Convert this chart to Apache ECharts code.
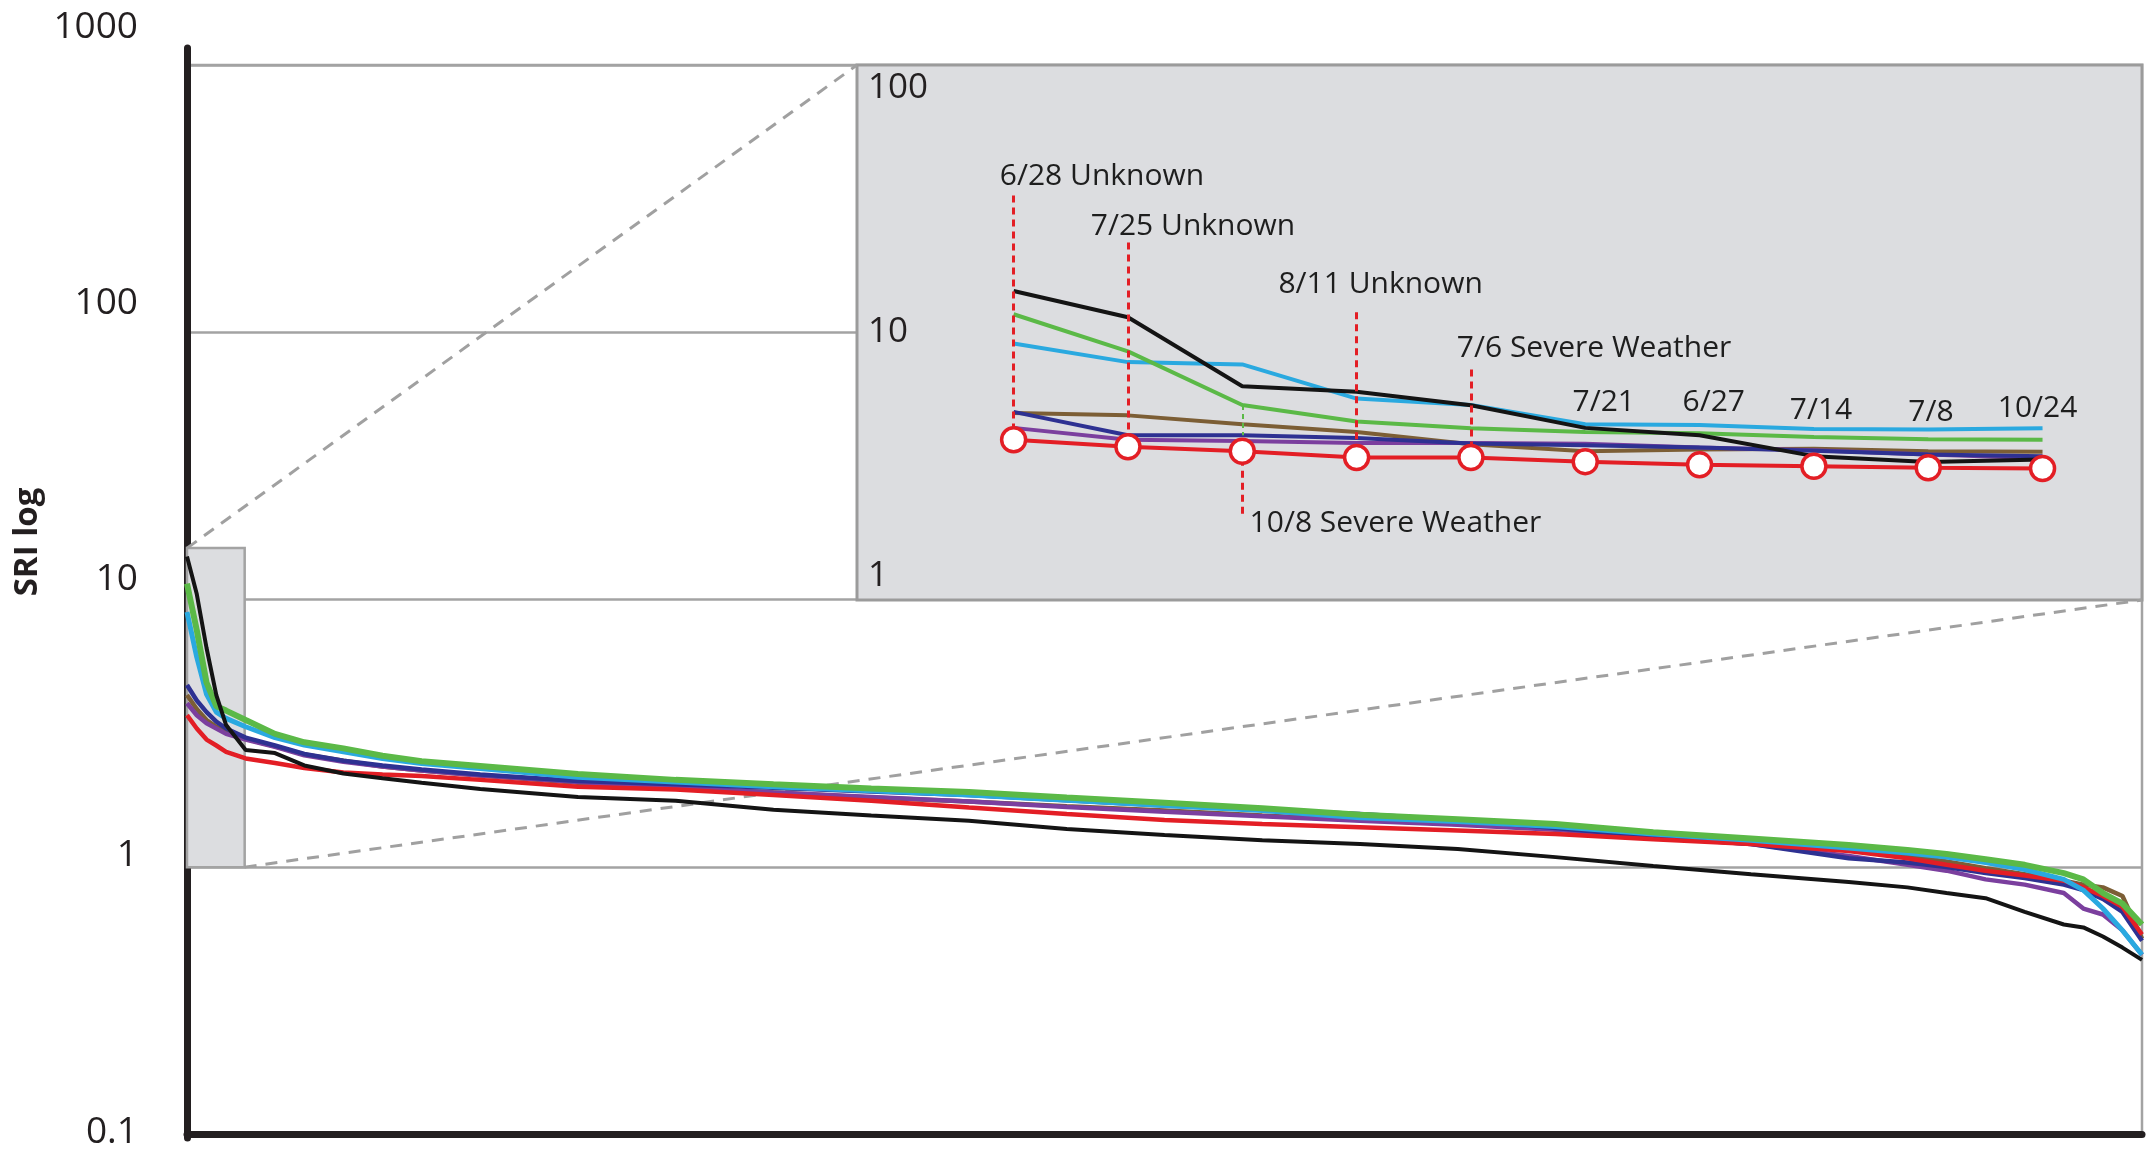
<!DOCTYPE html>
<html><head><meta charset="utf-8">
<script src="https://cdn.jsdelivr.net/npm/echarts@6/dist/echarts.min.js"></script>
<style>html,body{margin:0;padding:0;background:#fff;}#c{width:2146px;height:1153px;}</style>
</head><body><div id="c"></div>
<script>
// ---- main chart data (rank in % of events, SRI value) ----
const rank = [0,0.5,1,1.5,2,3,4.5,6,8,10,12,15,20,25,30,35,40,45,50,55,60,65,70,75,80,85,88,90,92,94,96,97,98,99,100];
const sriBlack  = [14.5,10.5,6.6,4.4,3.4,2.74,2.67,2.40,2.24,2.15,2.07,1.96,1.83,1.77,1.64,1.56,1.49,1.39,1.32,1.26,1.22,1.17,1.09,1.01,0.94,0.88,0.84,0.80,0.765,0.68,0.61,0.595,0.55,0.50,0.45];
const sriGreen  = [11.5,7.7,4.9,4.0,3.85,3.55,3.15,2.93,2.78,2.61,2.49,2.39,2.23,2.12,2.04,1.97,1.91,1.82,1.74,1.66,1.57,1.51,1.45,1.35,1.28,1.21,1.16,1.12,1.07,1.02,0.95,0.90,0.80,0.73,0.61];
const sriCyan   = [9.0,6.1,4.43,3.8,3.6,3.35,3.05,2.86,2.7,2.55,2.44,2.34,2.17,2.08,2.0,1.93,1.86,1.78,1.70,1.63,1.53,1.48,1.42,1.33,1.26,1.18,1.13,1.09,1.04,0.98,0.90,0.82,0.70,0.58,0.47];
const sriNavy   = [4.8,4.2,3.8,3.5,3.3,3.05,2.85,2.65,2.5,2.4,2.32,2.22,2.10,2.04,1.98,1.92,1.86,1.78,1.70,1.64,1.58,1.50,1.40,1.30,1.22,1.08,1.04,1.0,0.95,0.91,0.86,0.82,0.76,0.68,0.53];
const sriPurple = [4.1,3.7,3.45,3.3,3.15,3.0,2.82,2.62,2.48,2.38,2.30,2.20,2.08,1.98,1.90,1.83,1.76,1.68,1.61,1.55,1.49,1.44,1.38,1.29,1.22,1.10,1.02,0.97,0.90,0.86,0.80,0.70,0.665,0.58,0.47];
const sriBrown  = [4.4,3.9,3.55,3.35,3.2,3.02,2.83,2.64,2.5,2.38,2.30,2.20,2.07,1.98,1.90,1.82,1.76,1.69,1.63,1.56,1.50,1.45,1.39,1.31,1.24,1.16,1.10,1.05,0.99,0.94,0.89,0.86,0.84,0.78,0.54];
const sriRed    = [3.7,3.3,3.0,2.85,2.7,2.55,2.45,2.35,2.26,2.22,2.19,2.12,2.0,1.95,1.86,1.77,1.67,1.58,1.50,1.45,1.41,1.37,1.33,1.27,1.22,1.15,1.08,1.02,0.97,0.93,0.89,0.84,0.78,0.71,0.56];

// ---- inset (top 10 events) ----
const insetIdx    = [0,1,2,3,4,5,6,7,8,9];
const insetBlack  = [14.3,11.4,6.3,6.0,5.35,4.4,4.13,3.45,3.28,3.35];
const insetGreen  = [11.7,8.5,5.36,4.65,4.39,4.25,4.2,4.07,3.99,3.97];
const insetCyan   = [9.1,7.75,7.6,5.66,5.36,4.54,4.51,4.36,4.34,4.39];
const insetBrown  = [5.0,4.9,4.54,4.25,3.82,3.6,3.65,3.68,3.6,3.58];
const insetNavy   = [5.05,4.13,4.13,4.03,3.85,3.79,3.72,3.61,3.5,3.45];
const insetPurple = [4.4,3.97,3.93,3.86,3.86,3.84,3.72,3.63,3.5,3.39];
const insetRed    = [3.97,3.74,3.6,3.41,3.41,3.29,3.2,3.16,3.12,3.1];

// ---- annotations ----
const annText = ['6/28 Unknown','7/25 Unknown','8/11 Unknown','7/6 Severe Weather','10/8 Severe Weather','7/21','6/27','7/14','7/8','10/24'];
const annX    = [0.773,1.569,3.21,5.077,3.34,5.162,6.124,7.062,8.024,8.957];
const annY    = [38.2,24.9,15.1,8.72,1.94,5.48,5.48,5.12,5.04,5.18];
const leaderIdx = [0,1,3,4,2];
const leaderEnd = [32.5,21.7,11.9,7.28,2.1];

// ---- tick labels ----
const mainTicks  = ['0.1','1','10','100','1000'];
const insetTicks = ['1','10','100'];

// zoom window in main chart
const zoomRankMax = 2.95, zoomTop = 15.6, zoomBottom = 1;
const insetXMin = -1.37, insetXMax = 9.87;

const C = {black:'#141414', green:'#5bb947', cyan:'#2aa9e0', navy:'#2e3192', purple:'#7b3f9e', brown:'#7c5e35', red:'#e31e25'};
const FONT = '"Open Sans", "Noto Sans", sans-serif';
const circleEdge = Math.pow(10, 11.5/268);

function mainLine(name, vals, color, w, extra) {
  return Object.assign({
    type:'line', name, xAxisIndex:0, yAxisIndex:0, z:2,
    data: rank.map((r,i)=>[r, vals[i]]),
    showSymbol:false, symbol:'none', smooth:false,
    lineStyle:{color, width:w}, itemStyle:{color}, silent:true
  }, extra||{});
}
function insetLine(name, vals, color, w, extra) {
  return Object.assign({
    type:'line', name, xAxisIndex:1, yAxisIndex:1, z:3,
    data: insetIdx.map((x,i)=>[x, vals[i]]),
    showSymbol:false, symbol:'none',
    lineStyle:{color, width:w}, itemStyle:{color}, silent:true
  }, extra||{});
}

const chart = echarts.init(document.getElementById('c'), null, {renderer:'canvas'});
const hidden = {show:false};
const option = {
  animation:false,
  backgroundColor:'#ffffff',
  textStyle:{fontFamily:FONT},
  grid:[
    {left:187, right:4, top:65, bottom:18.5, show:true, borderColor:'#a3a3a3', borderWidth:2.5, backgroundColor:'rgba(0,0,0,0)', z:0, outerBoundsMode:'none'},
    {left:857, right:4, top:65, bottom:553, show:true, backgroundColor:'#dcdde0', borderColor:'#9b9b9b', borderWidth:3, z:1, outerBoundsMode:'none'},
    {left:140, width:20, top:27.7, bottom:21, outerBoundsMode:'none'},
    {left:866, width:20, top:88, bottom:577, z:4, outerBoundsMode:'none'},
    {left:187, width:20, top:48, bottom:15, z:3, outerBoundsMode:'none'}
  ],
  xAxis:[
    {gridIndex:0, type:'value', min:0, max:100, axisLine:{show:true, onZero:false, lineStyle:{color:'#231f20', width:7}}, axisTick:hidden, axisLabel:hidden, splitLine:hidden, z:3},
    {gridIndex:1, type:'value', min:insetXMin, max:insetXMax, axisLine:hidden, axisTick:hidden, axisLabel:hidden, splitLine:hidden, z:2},
    {gridIndex:2, type:'value', min:0, max:1, show:false},
    {gridIndex:3, type:'value', min:0, max:1, show:false},
    {gridIndex:4, type:'value', min:0, max:1, show:false}
  ],
  yAxis:[
    {gridIndex:0, type:'log', logBase:10, min:0.1, max:1000, axisLine:hidden, axisTick:hidden, axisLabel:hidden,
     splitLine:{show:true, lineStyle:{color:'#a3a3a3', width:2.5}}, z:0},
    {gridIndex:1, type:'log', logBase:10, min:1, max:100, axisLine:hidden, axisTick:hidden, axisLabel:hidden, splitLine:hidden, z:2},
    {gridIndex:2, type:'log', logBase:10, min:0.1, max:1000, axisLine:hidden, axisTick:hidden, splitLine:hidden,
     axisLabel:{show:true, margin:2, fontSize:37, color:'#231f20', fontFamily:FONT, formatter:(v,i)=>mainTicks[i]}},
    {gridIndex:3, type:'log', logBase:10, min:1, max:100, axisLine:hidden, axisTick:hidden, splitLine:hidden, z:4,
     axisLabel:{show:true, inside:true, margin:2, fontSize:35, color:'#231f20', fontFamily:FONT, formatter:(v,i)=>insetTicks[i]}},
    {gridIndex:4, type:'value', min:0, max:1, axisLine:{show:true, lineStyle:{color:'#231f20', width:7}}, axisTick:hidden, axisLabel:hidden, splitLine:hidden}
  ],
  series:[
    mainLine('Brown', sriBrown, C.brown, 4.5, {
      markArea:{silent:true, z:1, itemStyle:{color:'#dcdde0', borderColor:'#a3a3a3', borderWidth:2.5, opacity:1},
        data:[[{xAxis:0, yAxis:zoomBottom},{xAxis:zoomRankMax, yAxis:zoomTop}]]}
    }),
    mainLine('Purple', sriPurple, C.purple, 4.5),
    mainLine('Navy', sriNavy, C.navy, 4.5),
    mainLine('Red', sriRed, C.red, 4.5),
    mainLine('Cyan', sriCyan, C.cyan, 5),
    mainLine('Green', sriGreen, C.green, 6),
    mainLine('Black', sriBlack, C.black, 4),

    insetLine('iBrown', insetBrown, C.brown, 4),
    insetLine('iPurple', insetPurple, C.purple, 4),
    insetLine('iNavy', insetNavy, C.navy, 4),
    insetLine('iCyan', insetCyan, C.cyan, 4),
    insetLine('iGreen', insetGreen, C.green, 4, {
      markLine:{silent:true, symbol:['none','none'], label:{show:false},
        lineStyle:{color:C.green, type:[5,4], width:2},
        data:[[{coord:[2, insetGreen[2]]},{coord:[2, insetNavy[2]]}]]}
    }),
    insetLine('iBlack', insetBlack, C.black, 4),
    insetLine('iRed', insetRed, C.red, 4, {
      z:4, showSymbol:true, symbol:'circle', symbolSize:24,
      itemStyle:{color:'#ffffff', borderColor:C.red, borderWidth:3.5},
      markLine:{silent:true, symbol:['none','none'], label:{show:false},
        lineStyle:{color:C.red, type:[7,5], width:3},
        data: leaderIdx.map((k,j)=>{
          const v = insetRed[k];
          const edge = leaderEnd[j] > v ? v*circleEdge : v/circleEdge;
          return [{coord:[k, leaderEnd[j]]},{coord:[k, edge]}];
        })}
    }),
    {type:'scatter', name:'annotations', xAxisIndex:1, yAxisIndex:1, z:6, silent:true,
     symbol:'circle', symbolSize:2, itemStyle:{color:'rgba(0,0,0,0)'},
     data: annX.map((x,i)=>[x, annY[i], annText[i]]),
     label:{show:true, position:'inside', formatter:p=>p.data[2], fontSize:30, color:'#1e1e1e',
            textBorderWidth:0, textBorderColor:'transparent', opacity:1, fontFamily:FONT}
    }
  ]
};
chart.setOption(option);

const px = (idx, pt) => chart.convertToPixel({xAxisIndex:idx, yAxisIndex:idx}, pt);
const a1 = px(0, [0, zoomTop]);
const b1 = px(1, [insetXMin, 100]);
const a2 = px(0, [zoomRankMax, zoomBottom]);
const b2 = px(1, [insetXMax, 1]);
const dashStyle = {stroke:'#a0a0a0', lineWidth:3, lineDash:[12,9]};
chart.setOption({
  graphic:[
    {type:'line', silent:true, z:1, shape:{x1:a1[0], y1:a1[1], x2:b1[0], y2:b1[1]}, style:dashStyle},
    {type:'line', silent:true, z:1, shape:{x1:a2[0], y1:a2[1], x2:b2[0], y2:b2[1]}, style:dashStyle},
    {type:'text', silent:true, z:10, x:28, y:542, rotation:Math.PI/2,
     style:{text:'SRI log', font:'bold 33px "Open Sans", "Noto Sans", sans-serif', fill:'#231f20', align:'center', verticalAlign:'middle'}}
  ]
});
</script>
</body></html>
